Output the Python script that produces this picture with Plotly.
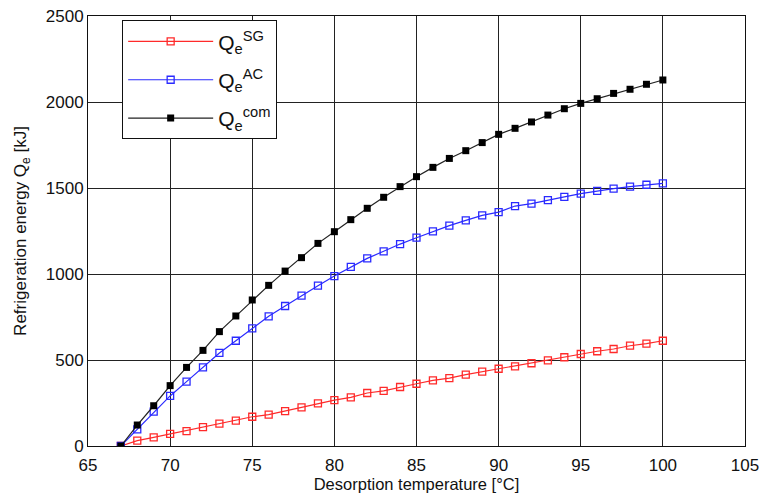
import plotly.graph_objects as go

temperature = list(range(67, 101))

q_sg = [0, 31, 50, 70, 87, 110, 130, 147, 170, 182, 203, 225, 248, 267, 283, 308, 320, 343,
        362, 382, 395, 415, 432, 449, 463, 481, 498, 516, 535, 551, 564, 583, 595, 612]
q_ac = [0, 97, 200, 291, 374, 457, 541, 612, 684, 754, 814, 874, 932, 988, 1042, 1091, 1132, 1174,
        1211, 1248, 1281, 1312, 1341, 1360, 1395, 1409, 1430, 1448, 1467, 1483, 1496, 1508, 1519, 1527]
q_com = [0, 122, 234, 351, 457, 556, 665, 756, 849, 934, 1017, 1095, 1178, 1246, 1316, 1382, 1446, 1508,
         1566, 1620, 1672, 1717, 1764, 1812, 1847, 1884, 1924, 1961, 1992, 2019, 2050, 2074, 2103, 2128]

x_ticks = [65, 70, 75, 80, 85, 90, 95, 100, 105]
y_ticks = [0, 500, 1000, 1500, 2000, 2500]

font_family = "Liberation Sans, Arial, sans-serif"

fig = go.Figure()
fig.add_trace(go.Scatter(
    x=temperature, y=q_sg, mode="lines+markers", name="Q<sub>e</sub><sup>SG</sup>",
    legendgroup="sg",
    line=dict(color="#ff2a2a", width=1.2),
    marker=dict(symbol="square-open", size=7, color="#ff2a2a", line=dict(width=1.3)),
))
fig.add_trace(go.Scatter(
    x=temperature, y=q_ac, mode="lines+markers", name="Q<sub>e</sub><sup>AC</sup>",
    legendgroup="ac",
    line=dict(color="#2a2aff", width=1.2),
    marker=dict(symbol="square-open", size=7, color="#2a2aff", line=dict(width=1.3)),
))
fig.add_trace(go.Scatter(
    x=temperature, y=q_com, mode="lines+markers", name="Q<sub>e</sub><sup>com</sup>",
    legendgroup="com",
    line=dict(color="#222222", width=1.2),
    marker=dict(symbol="square", size=7, color="#000000"),
))

fig.update_layout(
    width=762, height=495,
    margin=dict(l=88, r=17, t=16, b=49),
    paper_bgcolor="white", plot_bgcolor="white",
    font=dict(family=font_family, size=17, color="#111111"),
    showlegend=True,
    legend=dict(
        x=0.052, y=0.99, xanchor="left", yanchor="top",
        bgcolor="white", bordercolor="#111111", borderwidth=1,
        font=dict(size=21), itemwidth=85, tracegroupgap=8,
    ),
    xaxis=dict(
        range=[65, 105], tickvals=x_ticks, ticktext=[str(v) for v in x_ticks],
        showgrid=True, gridcolor="#222222", gridwidth=1,
        showline=True, linecolor="#111111", linewidth=1, mirror=True,
        ticks="", zeroline=False, ticklabelstandoff=4, automargin=False,
        title=dict(text="Desorption temperature [°C]", font=dict(size=16.5), standoff=4),
    ),
    yaxis=dict(
        range=[0, 2500], tickvals=y_ticks, ticktext=[str(v) for v in y_ticks],
        showgrid=True, gridcolor="#222222", gridwidth=1,
        showline=True, linecolor="#111111", linewidth=1, mirror=True,
        ticks="", zeroline=False, automargin=False,
        title=dict(text="Refrigeration energy Q<sub>e</sub> [kJ]", font=dict(size=17), standoff=14),
    ),
)

fig.write_html("out.html")
